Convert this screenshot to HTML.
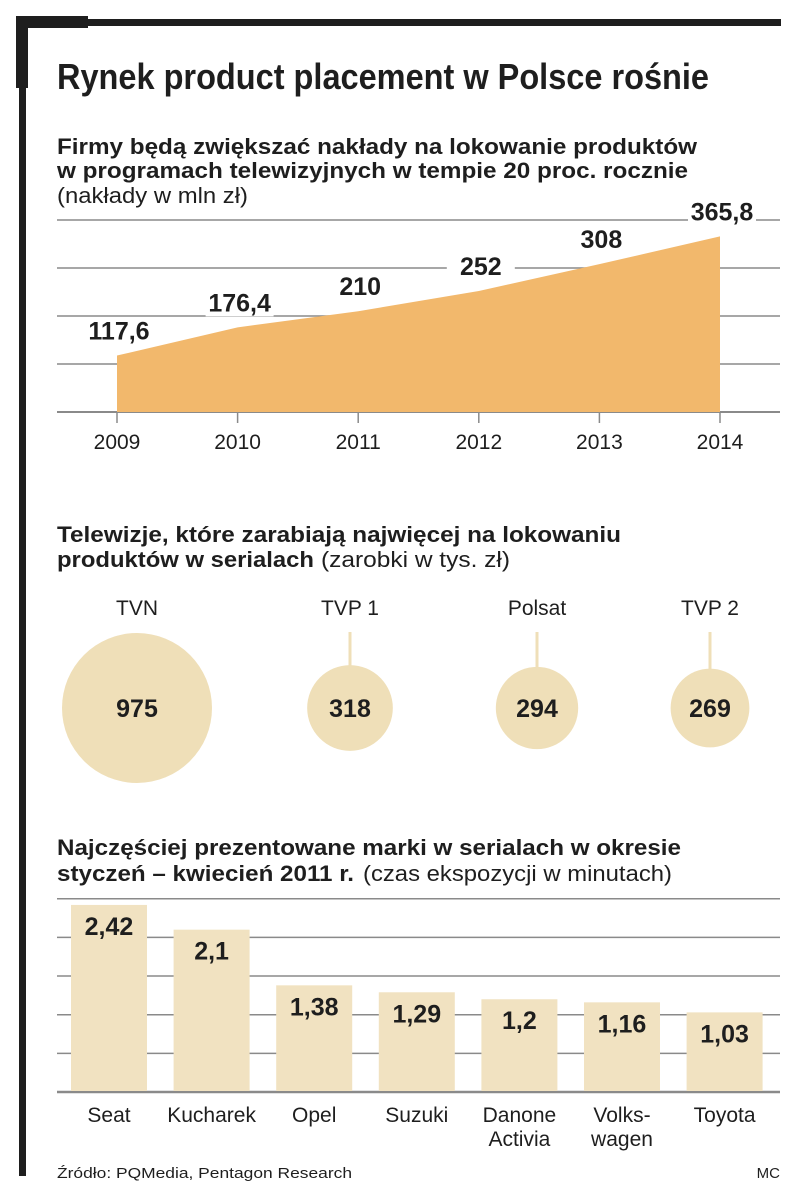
<!DOCTYPE html>
<html><head><meta charset="utf-8">
<style>
html,body{margin:0;padding:0;background:#fff;}
svg{display:block;}
.nar{font-family:"Liberation Sans Narrow","Liberation Sans","DejaVu Sans",sans-serif;}
.reg{font-family:"Liberation Sans","DejaVu Sans",sans-serif;}
</style></head>
<body>
<svg id="s" width="805" height="1201" viewBox="0 0 805 1201" xmlns="http://www.w3.org/2000/svg">
<rect x="0" y="0" width="805" height="1201" fill="#fff"/>
<g fill="#1e1e1e">
<rect x="16" y="16" width="12" height="72"/>
<rect x="16" y="16" width="72" height="12"/>
<rect x="19" y="19" width="762" height="7"/>
<rect x="19" y="19" width="7" height="1157"/>
</g>
<text class="nar" x="57" y="89" font-size="36" font-weight="bold" fill="#1e1e1e" textLength="652" lengthAdjust="spacingAndGlyphs">Rynek product placement w Polsce rośnie</text>
<g class="nar" font-size="22" font-weight="bold" fill="#1e1e1e">
<text x="57" y="154" textLength="640" lengthAdjust="spacingAndGlyphs">Firmy będą zwiększać nakłady na lokowanie produktów</text>
<text x="57" y="178" textLength="631" lengthAdjust="spacingAndGlyphs">w programach telewizyjnych w tempie 20 proc. rocznie</text>
<text x="57" y="203" font-weight="normal" textLength="191" lengthAdjust="spacingAndGlyphs">(nakłady w mln zł)</text>
</g>
<g id="area"></g>
<g class="nar" font-size="22" font-weight="bold" fill="#1e1e1e">
<text x="57" y="542" textLength="564" lengthAdjust="spacingAndGlyphs">Telewizje, które zarabiają najwięcej na lokowaniu</text>
<text x="57" y="567" textLength="257" lengthAdjust="spacingAndGlyphs">produktów w serialach</text>
<text x="321" y="567" font-weight="normal" textLength="189" lengthAdjust="spacingAndGlyphs">(zarobki w tys. zł)</text>
</g>
<g id="bub"></g>
<g class="nar" font-size="22" font-weight="bold" fill="#1e1e1e">
<text x="57" y="855" textLength="624" lengthAdjust="spacingAndGlyphs">Najczęściej prezentowane marki w serialach w okresie</text>
<text x="57" y="881" textLength="297" lengthAdjust="spacingAndGlyphs">styczeń – kwiecień 2011 r.</text>
<text x="363" y="881" font-weight="normal" textLength="309" lengthAdjust="spacingAndGlyphs">(czas ekspozycji w minutach)</text>
</g>
<g id="bars"></g>
<text class="nar" x="57" y="1178" font-size="15" fill="#1e1e1e" textLength="295" lengthAdjust="spacingAndGlyphs">Źródło: PQMedia, Pentagon Research</text>
<text class="nar" x="780" y="1178" font-size="15" fill="#1e1e1e" text-anchor="end">MC</text>
</svg>
<script>
const years = ["2009","2010","2011","2012","2013","2014"];
const spend = [117.6,176.4,210,252,308,365.8];
const spendLabels = ["117,6","176,4","210","252","308","365,8"];
const areaTicks = [0,100,200,300,400];
const stations = ["TVN","TVP 1","Polsat","TVP 2"];
const earnings = [975,318,294,269];
const brands = [["Seat"],["Kucharek"],["Opel"],["Suzuki"],["Danone","Activia"],["Volks-","wagen"],["Toyota"]];
const minutes = [2.42,2.1,1.38,1.29,1.2,1.16,1.03];
const minuteLabels = ["2,42","2,1","1,38","1,29","1,2","1,16","1,03"];
const barTicks = [0,0.5,1,1.5,2,2.5];

const NS="http://www.w3.org/2000/svg";
function mk(parent,tag,attrs,txt){const e=document.createElementNS(NS,tag);for(const k in attrs)e.setAttribute(k,attrs[k]);if(txt!==undefined)e.textContent=txt;parent.appendChild(e);return e;}

// area chart
const area=document.getElementById('area');
const ax=i=>117+i*(720-117)/(years.length-1);
const ay=v=>412-v*0.48;
areaTicks.filter(t=>ay(t)>=215).forEach(t=>{const l=mk(area,'line',{x1:57,x2:780,y1:ay(t),y2:ay(t),stroke:'#8a8a8a','stroke-width':t===0?2:1.5});

});
let d=`M${ax(0)},${ay(0)}`;spend.forEach((v,i)=>{d+=` L${ax(i)},${ay(v)}`;});d+=` L${ax(spend.length-1)},${ay(0)} Z`;
const p=mk(area,'path',{d:d,fill:'#f2b86c'});


years.forEach((y,i)=>{
const tk=mk(area,'line',{x1:ax(i),x2:ax(i),y1:412,y2:423,stroke:'#8a8a8a','stroke-width':1.5});


const t=mk(area,'text',{x:ax(i),y:449,'font-size':21,'text-anchor':'middle',fill:'#1e1e1e',class:'nar'},y);


const lx=ax(i)+2, ly=ay(spend[i])-16;
const bg=mk(area,'rect',{x:lx-34,y:ly-21,width:68,height:26,fill:'#fff'});


const v=mk(area,'text',{x:lx,y:ly,'font-size':25,'font-weight':'bold','text-anchor':'middle',fill:'#1e1e1e',class:'nar'},spendLabels[i]);


});

// bubbles
const bub=document.getElementById('bub');
const bx=[137,350,537,710];
const rr=v=>75*Math.sqrt(v/earnings[0]);
stations.forEach((s,i)=>{
const r=rr(earnings[i]);
const t=mk(bub,'text',{x:bx[i],y:615,'font-size':21,'text-anchor':'middle',fill:'#1e1e1e',class:'reg'},s);


if(i>0){const l=mk(bub,'line',{x1:bx[i],x2:bx[i],y1:632,y2:708-r+1,stroke:'#efdfb8','stroke-width':3});

}
const c=mk(bub,'circle',{cx:bx[i],cy:708,r:r,fill:'#efdfb8'});


const v=mk(bub,'text',{x:bx[i],y:717,'font-size':25,'font-weight':'bold','text-anchor':'middle',fill:'#1e1e1e',class:'reg'},String(earnings[i]));


});

// bars
const bars=document.getElementById('bars');
const by=v=>1092-v*77.3;
const bxc=i=>109+i*102.6;
barTicks.forEach(t=>{const l=mk(bars,'line',{x1:57,x2:780,y1:by(t),y2:by(t),stroke:'#8a8a8a','stroke-width':t===0?2.5:1.5});

});
minutes.forEach((m,i)=>{
const r=mk(bars,'rect',{x:bxc(i)-38,y:by(m),width:76,height:by(0)-by(m)-1,fill:'#f1e2c1'});


const v=mk(bars,'text',{x:bxc(i),y:by(m)+30,'font-size':25,'font-weight':'bold','text-anchor':'middle',fill:'#1e1e1e',class:'nar'},minuteLabels[i]);


brands[i].forEach((ln,j)=>{
const t=mk(bars,'text',{x:bxc(i),y:1122+j*24,'font-size':21,'text-anchor':'middle',fill:'#1e1e1e',class:'nar'},ln);


});
});
</script>
</body></html>
